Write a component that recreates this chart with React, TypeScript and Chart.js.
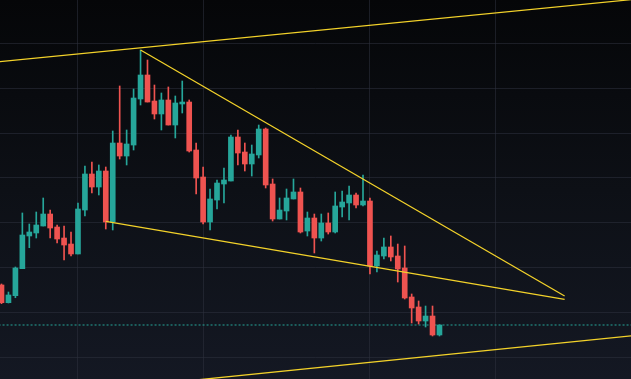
import React, { useEffect, useRef } from 'react';
import { Chart, registerables } from 'chart.js';

Chart.register(...registerables);

// ---- Data (price units) ----
const opens = [
  116.12, 112.17, 113.73, 119.75, 127.04, 127.71, 129.27, 131.94, 129.04, 126.59,
  125.25, 123.03, 132.83, 140.86, 137.96, 141.53, 130.16, 147.77, 144.87, 147.32,
  157.58, 162.93, 157.13, 154.24, 157.36, 151.78, 156.47, 156.91, 146.21, 140.19,
  130.16, 135.06, 138.63, 139.30, 149.11, 145.76, 143.09, 145.10, 150.89, 138.63,
  130.83, 132.61, 135.29, 136.85, 128.15, 131.05, 126.59, 129.94, 127.93, 133.50,
  134.40, 136.18, 133.95, 134.84, 120.35, 122.58, 124.59, 122.58, 119.91, 113.44,
  111.21, 108.09, 109.20, 104.97,
];
const highs = [
  116.34, 114.55, 120.13, 132.17, 129.71, 132.39, 135.51, 132.83, 129.49, 129.27,
  127.93, 134.40, 142.64, 143.53, 142.87, 142.42, 150.45, 160.48, 150.67, 159.81,
  168.50, 166.27, 160.70, 158.92, 160.26, 158.25, 161.59, 157.36, 147.77, 142.42,
  137.52, 139.52, 142.20, 149.55, 150.67, 147.77, 147.32, 151.78, 151.11, 139.75,
  135.51, 137.52, 139.75, 137.74, 132.39, 131.94, 131.94, 132.17, 136.85, 137.07,
  138.19, 136.63, 140.64, 135.51, 123.69, 126.59, 127.04, 125.25, 124.81, 114.11,
  112.55, 111.43, 111.43, 107.20,
];
const lows = [
  111.95, 112.10, 113.28, 119.75, 124.43, 126.59, 129.27, 126.59, 125.48, 121.69,
  122.58, 123.03, 131.50, 136.63, 136.18, 128.60, 128.38, 144.20, 142.87, 146.21,
  156.24, 156.91, 153.12, 150.67, 151.78, 148.89, 154.46, 145.76, 136.40, 129.71,
  128.38, 133.06, 134.40, 139.30, 142.87, 141.53, 140.41, 144.43, 137.74, 130.38,
  130.83, 130.61, 135.29, 127.71, 127.04, 123.25, 125.92, 127.48, 127.71, 131.27,
  130.61, 133.28, 133.73, 118.57, 119.01, 121.91, 121.47, 116.78, 112.99, 107.64,
  107.42, 106.75, 104.75, 104.75,
];
const closes = [
  112.17, 113.89, 119.91, 127.26, 127.93, 129.49, 131.94, 128.82, 126.37, 125.03,
  123.03, 133.06, 140.86, 137.96, 141.53, 130.16, 147.77, 144.87, 147.55, 157.80,
  162.93, 156.91, 154.24, 157.36, 151.78, 156.69, 156.91, 145.99, 139.97, 130.16,
  135.29, 138.85, 139.52, 149.11, 145.54, 143.09, 145.32, 150.89, 138.41, 130.83,
  132.83, 135.51, 136.85, 127.93, 131.05, 126.59, 129.94, 127.93, 133.73, 134.62,
  136.18, 133.95, 134.84, 120.35, 122.80, 124.59, 122.36, 119.68, 113.22, 110.99,
  108.09, 109.20, 104.97, 107.20,
];

// trend line anchors (bar index, price)
const upperChannel = [{ x: -1, y: 165.78 }, { x: 91, y: 179.79 }];
const lowerChannel = [{ x: 20, y: 93.69 }, { x: 91, y: 104.84 }];
const wedgeUpper = [{ x: 20, y: 168.5 }, { x: 81, y: 113.65 }];
const wedgeLower = [{ x: 15, y: 130.31 }, { x: 81, y: 112.9 }];
const lastPrice = 107.2;

const xGridTicks = [11, 29, 53, 71];
const yGridTicks = [100, 110, 120, 130, 140, 150, 160, 170];

const X_MIN = -0.216;
const X_MAX = 90.55;
const Y_MIN = 95.16;
const Y_MAX = 179.65;

const UP = '#26a69a';
const DOWN = '#ef5350';
const TREND = '#f3d22a';
const GRID = 'rgba(46,50,62,0.55)';

export default function App() {
  const ref = useRef<HTMLCanvasElement | null>(null);

  useEffect(() => {
    if (!ref.current) return;
    const idx = opens.map((_, i) => i);
    const colorFor = (ctx: any) => {
      const i = ctx.dataIndex;
      if (i === undefined) return UP;
      return closes[i] >= opens[i] ? UP : DOWN;
    };
    const trend = (pts: { x: number; y: number }[]) => ({
      type: 'line',
      data: pts,
      borderColor: TREND,
      borderWidth: 1.3,
      pointRadius: 0,
      order: 0,
    });
    const chart = new Chart(ref.current, {
      type: 'bar',
      data: {
        datasets: [
          trend(upperChannel),
          trend(lowerChannel),
          trend(wedgeUpper),
          trend(wedgeLower),
          {
            type: 'bar',
            data: idx.map((i) => ({ x: i, y: [opens[i], closes[i]] })),
            backgroundColor: colorFor,
            barThickness: 5,
            minBarLength: 1,
            grouped: false,
            borderWidth: 0,
            order: 1,
          },
          {
            type: 'bar',
            data: idx.map((i) => ({ x: i, y: [lows[i], highs[i]] })),
            backgroundColor: colorFor,
            barThickness: 1,
            grouped: false,
            borderWidth: 0,
            order: 2,
          },
          {
            type: 'line',
            data: [{ x: -1, y: lastPrice }, { x: 91, y: lastPrice }],
            borderColor: UP,
            borderWidth: 1,
            borderDash: [2, 2],
            pointRadius: 0,
            order: 3,
          },
        ] as any,
      },
      options: {
        responsive: false,
        maintainAspectRatio: false,
        animation: false,
        events: [],
        devicePixelRatio: 1,
        layout: { padding: 0 },
        plugins: {
          legend: { display: false },
          tooltip: { enabled: false },
        },
        scales: {
          x: {
            type: 'linear',
            min: X_MIN,
            max: X_MAX,
            offset: false,
            grid: { color: GRID, drawTicks: false, offset: false, lineWidth: 1 },
            border: { display: false },
            ticks: { display: false },
            afterBuildTicks: (s: any) => {
              s.ticks = xGridTicks.map((v) => ({ value: v }));
            },
          },
          y: {
            type: 'linear',
            min: Y_MIN,
            max: Y_MAX,
            beginAtZero: false,
            grid: { color: GRID, drawTicks: false, lineWidth: 1 },
            border: { display: false },
            ticks: { display: false },
            afterBuildTicks: (s: any) => {
              s.ticks = yGridTicks.map((v) => ({ value: v }));
            },
          },
        },
      } as any,
    });
    return () => chart.destroy();
  }, []);

  return (
    <div
      style={{
        position: 'fixed',
        left: 0,
        top: 0,
        width: 631,
        height: 379,
        background: 'linear-gradient(to bottom, #050608 0%, #0d1016 50%, #141823 100%)',
        overflow: 'hidden',
      }}
    >
      <canvas ref={ref} width={631} height={379} style={{ display: 'block', width: 631, height: 379 }} />
    </div>
  );
}
